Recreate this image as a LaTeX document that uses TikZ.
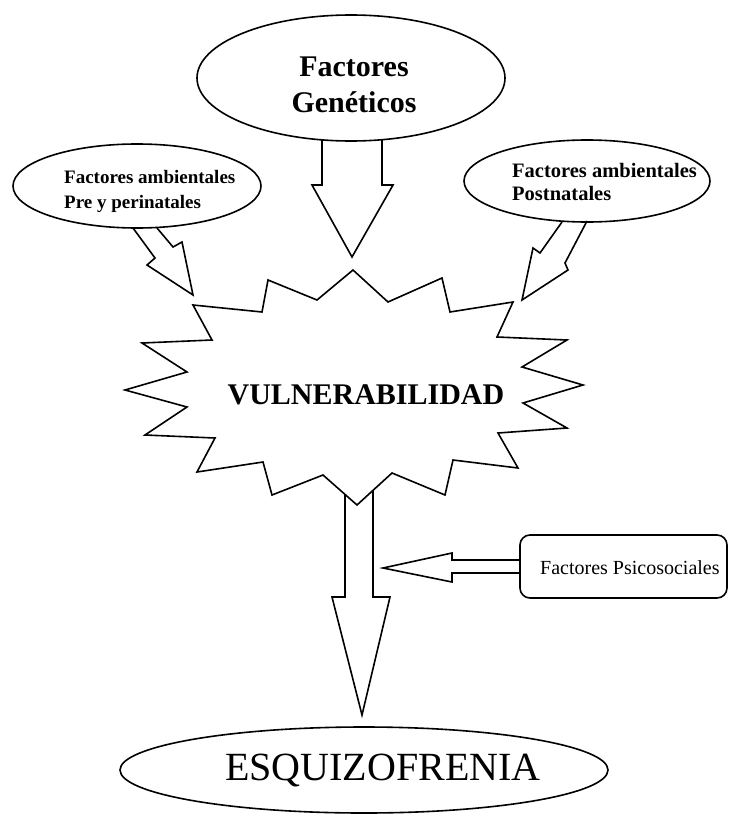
\documentclass[tikz,border=0pt]{standalone}
\usepackage{fontspec}
\setmainfont{Liberation Serif}
\usetikzlibrary{shapes.geometric}
\begin{document}
\begin{tikzpicture}[x=1pt,y=-1pt,line join=miter,
  outl/.style={draw=black,line width=1.6pt},
  ell/.style={outl,ellipse,inner sep=0pt,align=center}]
\useasboundingbox[fill=white] (0,0) rectangle (729,816);
% nodes
\node[ell,minimum width=308pt,minimum height=126pt] (gen) at (351,78) {};
\node[align=center,inner sep=0pt,font=\bfseries\fontsize{30}{36}\selectfont] (gentxt) at (354,85) {Factores\\Genéticos};
\node[ell,minimum width=248pt,minimum height=84pt] (pre) at (137,186) {};
\node[anchor=west,align=left,inner sep=0pt,font=\bfseries\fontsize{19}{25}\selectfont] (pretxt) at (64,191) {Factores ambientales\\Pre y perinatales};
\node[ell,minimum width=246pt,minimum height=82pt] (post) at (587,181) {};
\node[anchor=west,align=left,inner sep=0pt,font=\bfseries\fontsize{20.5}{23}\selectfont] (posttxt) at (512,182) {Factores ambientales\\Postnatales};
\node[outl,rounded corners=10pt,minimum width=207pt,minimum height=63pt,inner sep=0pt] (psi) at (623.5,566.5) {};
\node[anchor=west,inner sep=0pt,font=\fontsize{20}{22}\selectfont] (psitxt) at (540,568) {Factores Psicosociales};
\node[ell,minimum width=488pt,minimum height=86pt] (esq) at (364,770) {};
\node[inner sep=0pt,font=\fontsize{40}{44}\selectfont] (esqtxt) at (383,770) {ESQUIZOFRENIA};
% star
\draw[outl] (353,270) -- (388,302) -- (442,278) -- (450,312) -- (513,302) -- (497,337)
  -- (567,340) -- (522,367) -- (583,385) -- (523,403) -- (567,428) -- (498,433)
  -- (518,468) -- (453,460) -- (445,495) -- (392,473) -- (357,505) -- (323,475)
  -- (272,495) -- (263,462) -- (197,472) -- (215,438) -- (145,435) -- (187,407)
  -- (125,390) -- (187,372) -- (142,343) -- (212,340) -- (193,305) -- (262,312)
  -- (268,280) -- (317,300) -- cycle;
\node[font=\bfseries\fontsize{30}{32}\selectfont,inner sep=0pt] (vul) at (366,395) {VULNERABILIDAD};
% block arrows
\draw[outl] (322,140) -- (322,185) -- (312,185) -- (352,257) -- (393,185) -- (382,185) -- (382,140);
\draw[outl] (133,228) -- (155,258) -- (147,265) -- (193,295) -- (182,242) -- (173,247) -- (157,228);
\draw[outl] (562,222) -- (540,253) -- (533,248) -- (522,300) -- (568,270) -- (565,263) -- (587,221);
\draw[outl] (345,494) -- (345,597) -- (332,597) -- (362,715) -- (390,597) -- (373,597) -- (373,490);
\draw[outl] (psi.west |- 0,560) -- (452,560) -- (452,553) -- (383,568) -- (452,582) -- (452,573) -- (psi.west |- 0,573);
\end{tikzpicture}
\end{document}
